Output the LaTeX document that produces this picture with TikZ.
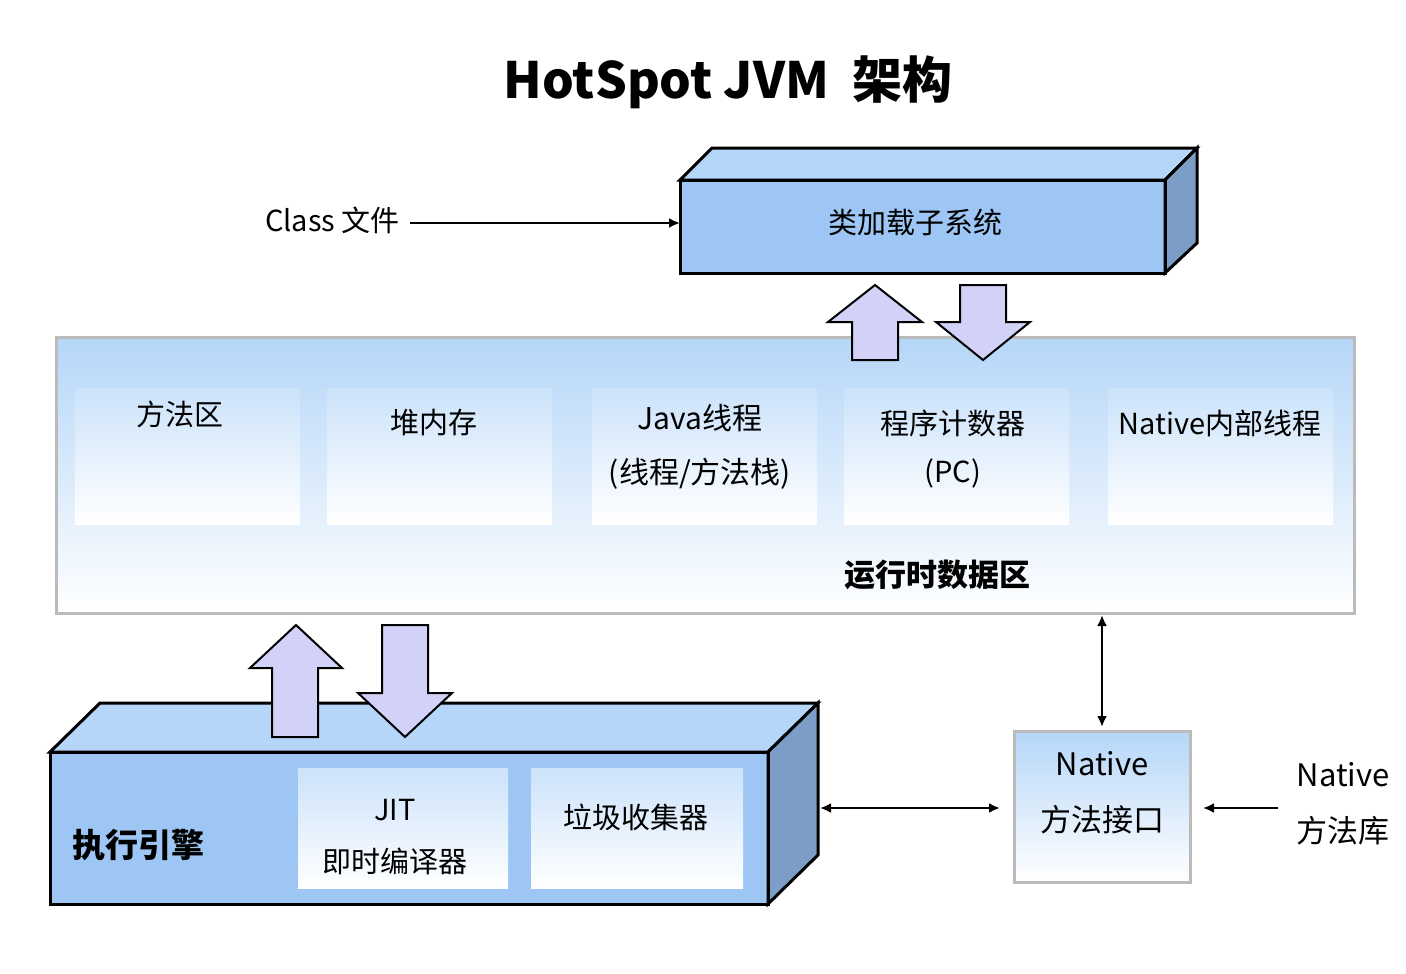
\documentclass[tikz,border=0pt]{standalone}
\usepackage{fontspec}
\setmainfont{Noto Sans CJK SC}
\usetikzlibrary{arrows.meta}
\definecolor{fblue}{HTML}{9DC6F4}
\definecolor{tblue}{HTML}{B5D6F8}
\definecolor{sblue}{HTML}{7C9DC6}
\definecolor{lav}{HTML}{D2D2F8}
\definecolor{gbord}{HTML}{BBBBBB}
\tikzset{
  face/.style={draw=black,line width=3pt,line join=miter},
  blk/.style={draw=black,line width=2pt,fill=lav,line join=miter},
  sub/.style={draw=none,top color=tblue!70,bottom color=white,inner sep=0},
  lbl/.style={font=\fontsize{29}{34}\selectfont,align=center,inner sep=0},
  con/.style={line width=2.5pt,-{Latex[length=11pt,width=10pt]}},
  dcon/.style={line width=2.5pt,{Latex[length=11pt,width=10pt]}-{Latex[length=11pt,width=10pt]}}
}
\begin{document}
\begin{tikzpicture}[x=1pt,y=-1pt]
\useasboundingbox (0,0) rectangle (1406,974);
\fill[white] (0,0) rectangle (1406,974);
% title
\node[font=\fontsize{50}{56}\selectfont\bfseries,inner sep=0] (title) at (728,82) {HotSpot JVM\ \ 架构};
% class loader
\fill[fblue] (680,180) rectangle (1165,273);
\draw[face,fill=tblue] (680,180)--(712,148)--(1197,148)--(1165,180)--cycle;
\draw[face,fill=sblue] (1165,180)--(1197,148)--(1197,243)--(1165,273)--cycle;
\draw[face] (680,180) rectangle (1165,273);
\node[lbl] (loader) at (915,222) {类加载子系统};
\coordinate (loaderW) at (680,223);
\node[lbl,anchor=east] (cls) at (400,220) {Class 文件};
\draw[con] (cls.east)++(10,3) -- (loaderW);
% runtime area
\draw[draw=gbord,line width=3pt,top color=tblue,bottom color=white] (56,337) rectangle (1354,613);
\node[sub,minimum width=225,minimum height=136] (m1) at (187.5,456) {};
\node[sub,minimum width=225,minimum height=136] (m2) at (439.5,456) {};
\node[sub,minimum width=225,minimum height=136] (m3) at (704.5,456) {};
\node[sub,minimum width=225,minimum height=136] (m4) at (956.5,456) {};
\node[sub,minimum width=225,minimum height=136] (m5) at (1220.5,456) {};
\node[lbl] (t1) at (180,414) {方法区};
\node[lbl] (t2) at (434,423) {堆内存};
\node[lbl,font=\fontsize{30}{54}\selectfont] (t3) at (700,447) {Java线程\\(线程/方法栈)};
\node[lbl,font=\fontsize{29}{48}\selectfont] (t4) at (953,449) {程序计数器\\(PC)};
\node[lbl] (t5) at (1220,423) {Native内部线程};
\node[lbl,font=\fontsize{31}{34}\selectfont\bfseries] (rt) at (937,575) {运行时数据区};
% block arrows top
\draw[blk] (852,360)--(852,322)--(828,322)--(875,285)--(922,322)--(898,322)--(898,360)--cycle;
\draw[blk] (960,285)--(960,322)--(936,322)--(983,360)--(1030,322)--(1006,322)--(1006,285)--cycle;
% execution engine
\fill[fblue] (50,752) rectangle (768,904);
\draw[face,fill=tblue] (50,752)--(100,703)--(818,703)--(768,752)--cycle;
\draw[face,fill=sblue] (768,752)--(818,703)--(818,855)--(768,904)--cycle;
\draw[face] (50,752) rectangle (768,904);
\node[lbl,font=\fontsize{33}{36}\selectfont\bfseries] (ee) at (138,845) {执行引擎};
\node[sub,minimum width=210,minimum height=120] (jit) at (403,828) {};
\node[sub,minimum width=212,minimum height=120] (gc) at (637,828) {};
\node[lbl,font=\fontsize{29}{52}\selectfont] (jitt) at (395,837) {JIT\\即时编译器};
\node[lbl] (gct) at (636,817) {垃圾收集器};
% block arrows bottom
\draw[blk] (272,737)--(272,668)--(250,668)--(296,625)--(342,668)--(318,668)--(318,737)--cycle;
\draw[blk] (382,625)--(382,693)--(358,693)--(405,737)--(452,693)--(428,693)--(428,625)--cycle;
% native interface
\node[draw=gbord,line width=3pt,top color=tblue,bottom color=white,minimum width=176,minimum height=151,inner sep=0] (ni) at (1102,806.5) {};
\node[lbl,font=\fontsize{31}{56}\selectfont] (nit) at (1102,793) {Native\\方法接口};
\node[lbl,font=\fontsize{31}{56}\selectfont] (nl) at (1343,804) {Native\\方法库};
\coordinate (rtB) at (1102,615);
\coordinate (niT) at (1102,727);
\draw[dcon] (rtB) -- (niT);
\coordinate (eeR) at (820,808);
\coordinate (niL) at (1000,808);
\draw[dcon] (eeR) -- (niL);
\coordinate (nlL) at (1278,808);
\coordinate (niR) at (1203,808);
\draw[con] (nlL) -- (niR);
\end{tikzpicture}
\end{document}
